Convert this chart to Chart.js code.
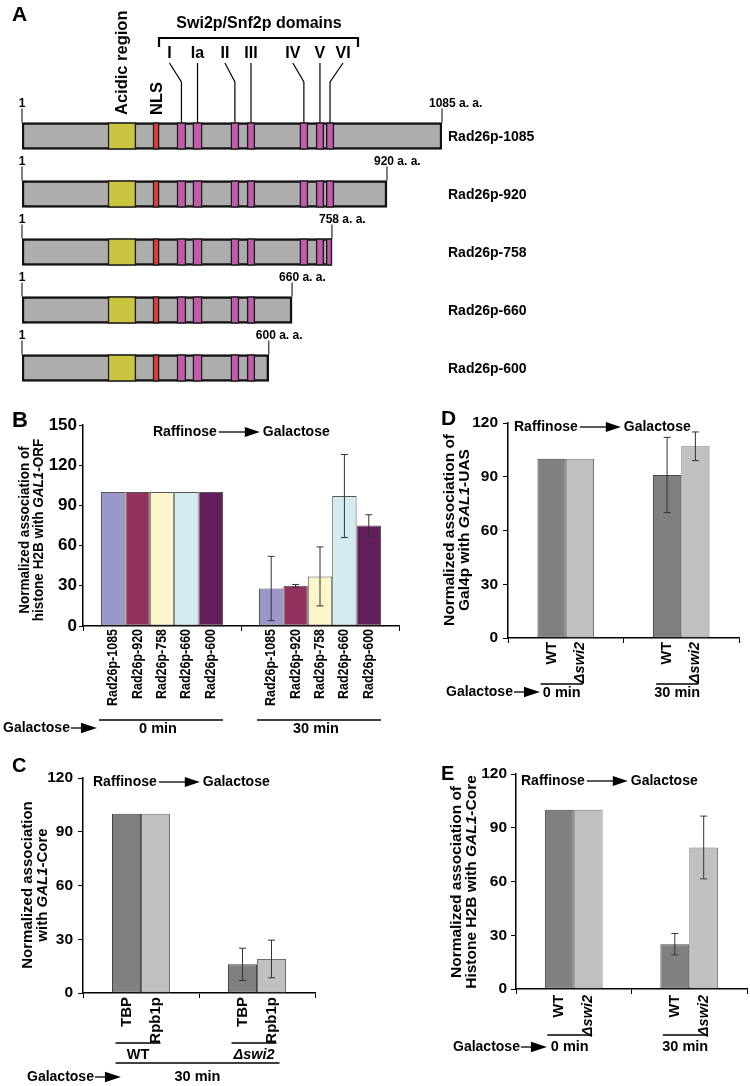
<!DOCTYPE html>
<html>
<head>
<meta charset="utf-8">
<script src="https://cdn.jsdelivr.net/npm/chart.js@4.4.1/dist/chart.umd.min.js"></script>
<style>
  html, body { margin: 0; padding: 0; background: #fff; }
  #fig { position: relative; width: 750px; height: 1086px; overflow: hidden; }
  canvas { position: absolute; }
</style>
</head>
<body>
<div id="fig">
  <canvas id="chartA"></canvas>
  <canvas id="chartB"></canvas>
  <canvas id="chartC"></canvas>
  <canvas id="chartD"></canvas>
  <canvas id="chartE"></canvas>
</div>
<script>
const FONT = "'Liberation Sans', Arial, sans-serif";

// Panel A - Rad26p truncation constructs (positions on the diagram's residue scale)
const constructNames = ['Rad26p-1085', 'Rad26p-920', 'Rad26p-758', 'Rad26p-660', 'Rad26p-600'];
const constructEnds = [1085, 943, 801, 698, 638];
const endLabels = ['1085 a. a.', '920 a. a.', '758 a. a.', '660 a. a.', '600 a. a.'];
const acidicRegion = [223, 295];
const nlsRegion = [339, 355];
const domainNames = ['I', 'Ia', 'II', 'III', 'IV', 'V', 'VI'];
const domainSpans = [[401, 424], [442, 466], [540, 561], [582, 602], [718, 739], [760, 780], [786, 806]];

// Panel B - histone H2B at GAL1-ORF
const bTimes = ['0 min', '30 min'];
const bStrains = ['Rad26p-1085', 'Rad26p-920', 'Rad26p-758', 'Rad26p-660', 'Rad26p-600'];
const bMeans = [[100, 28], [100, 30], [100, 37], [100, 97], [100, 75]];
const bErrs = [[0, 24], [0, 1], [0, 22], [0, 31], [0, 8]];
const bColors = ['#9a98cb', '#94325f', '#f9f6cb', '#d4ebf0', '#621f5c'];
const bTicks = [0, 30, 60, 90, 120, 150];

// Panel C - TBP / Rpb1p at GAL1-Core
const cStrains = ['WT', 'Δswi2'];
const cFactors = ['TBP', 'Rpb1p'];
const cMeans = [[100, 16], [100, 19]];
const cErrs = [[0, 9], [0, 10.5]];

// Panel D - Gal4p at GAL1-UAS
const dTimes = ['0 min', '30 min'];
const dStrains = ['WT', 'Δswi2'];
const dMeans = [[100, 91], [100, 107]];
const dErrs = [[0, 21], [0, 8]];

// Panel E - histone H2B at GAL1-Core
const eTimes = ['0 min', '30 min'];
const eStrains = ['WT', 'Δswi2'];
const eMeans = [[100, 25], [100, 79]];
const eErrs = [[0, 6], [0, 17.5]];

const tick120 = [0, 30, 60, 90, 120];
const greys = ['#808080', '#c0c0c0'];
const greyEdges = ['#444', '#707070'];

// ---------- drawing helpers ----------
function setFont(ctx, size, italic) {
  ctx.font = (italic ? 'italic ' : '') + 'bold ' + size + 'px ' + FONT;
}
function segsOf(t) { return [[t, t.indexOf('swi2') >= 0]]; }
function segWidth(ctx, segs, size) {
  let w = 0;
  segs.forEach(s => { setFont(ctx, size, s[1]); w += ctx.measureText(s[0]).width; });
  return w;
}
function drawSegs(ctx, segs, x, y, size) {
  ctx.textAlign = 'left';
  segs.forEach(s => {
    setFont(ctx, size, s[1]);
    ctx.fillText(s[0], x, y);
    x += ctx.measureText(s[0]).width;
  });
}
function centerText(ctx, segs, x, y, size) {
  ctx.textBaseline = 'middle';
  drawSegs(ctx, segs, x - segWidth(ctx, segs, size) / 2, y, size);
}
// text reading bottom to top; 'top' = ends at y, 'center', 'bottom' = starts at y
function vLabel(ctx, segs, x, y, size, align, squeeze) {
  ctx.save();
  ctx.translate(x, y);
  ctx.rotate(-Math.PI / 2);
  ctx.scale(squeeze || 1, 1);
  ctx.textBaseline = 'middle';
  const w = segWidth(ctx, segs, size);
  const x0 = align === 'top' ? -w : (align === 'center' ? -w / 2 : 0);
  drawSegs(ctx, segs, x0, 0, size);
  ctx.restore();
}
function arrow(ctx, x0, x1, y, head) {
  ctx.lineWidth = 1.3;
  ctx.beginPath(); ctx.moveTo(x0, y); ctx.lineTo(x1 - head + 1, y); ctx.stroke();
  ctx.beginPath();
  ctx.moveTo(x1 - head, y - head * 0.33);
  ctx.lineTo(x1, y);
  ctx.lineTo(x1 - head, y + head * 0.33);
  ctx.closePath(); ctx.fill();
}
function letter(ctx, ch, x, y, size) {
  setFont(ctx, size); ctx.textAlign = 'left'; ctx.textBaseline = 'middle';
  ctx.fillText(ch, x, y);
}
function raffinose(ctx, x, y) {
  setFont(ctx, 14); ctx.textAlign = 'left'; ctx.textBaseline = 'middle';
  ctx.fillText('Raffinose', x, y);
  const a = x + ctx.measureText('Raffinose').width + 2;
  arrow(ctx, a, a + 41, y, 15);
  ctx.fillText('Galactose', a + 44, y);
}
function galactoseArrow(ctx, x, y) {
  setFont(ctx, 14); ctx.textAlign = 'left'; ctx.textBaseline = 'middle';
  ctx.fillText('Galactose', x, y);
  const a = x + ctx.measureText('Galactose').width + 1;
  arrow(ctx, a, a + 26, y, 16);
}
function underline(ctx, x0, x1, y) {
  ctx.lineWidth = 1.3;
  ctx.beginPath(); ctx.moveTo(x0, y); ctx.lineTo(x1, y); ctx.stroke();
}
function yTitle(ctx, lines, xs, cy, size, squeeze) {
  lines.forEach((segs, k) => vLabel(ctx, segs, xs[k], cy, size, 'center', squeeze));
}

// ---------- Panel A ----------
const numeralShift = [-12, 0, -10, 0, -11, 0, 13];
const canvasA = document.getElementById('chartA');
canvasA.width = 750; canvasA.height = 400;
canvasA.style.left = '0px'; canvasA.style.top = '0px';

new Chart(canvasA, {
  type: 'bar',
  data: {
    labels: constructNames,
    datasets: [
      ...domainSpans.map(d => ({
        data: constructEnds.map(end => d[0] < end ? [d[0], Math.min(d[1], end)] : null),
        backgroundColor: '#c45aab', borderColor: '#1a1a1a', borderWidth: 1.5, order: 1
      })),
      { data: constructEnds.map(() => nlsRegion), backgroundColor: '#e03b3b', borderColor: '#1a1a1a', borderWidth: 1.5, order: 1 },
      { data: constructEnds.map(() => acidicRegion), backgroundColor: '#c9c53e', borderColor: '#1a1a1a', borderWidth: 1.5, order: 1 },
      { data: constructEnds.map(end => [1, end]), backgroundColor: '#adadad', borderColor: '#111', borderWidth: 2.5, order: 5 }
    ]
  },
  options: {
    indexAxis: 'y',
    responsive: false,
    animation: false,
    datasets: { bar: { grouped: false, barThickness: 27, borderSkipped: false } },
    layout: { padding: { left: 22, right: 308, top: 107, bottom: 3 } },
    plugins: { legend: { display: false }, tooltip: { enabled: false } },
    scales: {
      x: { type: 'linear', min: 1, max: 1085, display: false },
      y: { display: false }
    }
  },
  plugins: [{
    id: 'diagram',
    afterDatasetsDraw(chart) {
      const ctx = chart.ctx, xs = chart.scales.x, ys = chart.scales.y;
      const half = 13.5;
      ctx.save();
      ctx.fillStyle = '#000'; ctx.strokeStyle = '#000';
      letter(ctx, 'A', 12, 15, 21);

      // bracket over the Swi2p/Snf2p domains
      centerText(ctx, [['Swi2p/Snf2p domains', false]], 259, 24, 16);
      ctx.lineWidth = 2.2;
      ctx.beginPath();
      ctx.moveTo(159, 47); ctx.lineTo(159, 38); ctx.lineTo(358, 38); ctx.lineTo(358, 47);
      ctx.stroke();

      const top0 = ys.getPixelForValue(0) - half;
      domainNames.forEach((n, k) => {
        const cx = xs.getPixelForValue((domainSpans[k][0] + domainSpans[k][1]) / 2);
        const lx = cx + numeralShift[k];
        centerText(ctx, [[n, false]], lx, 54, 16);
        ctx.lineWidth = 1.2;
        ctx.beginPath();
        ctx.moveTo(lx, 63); ctx.lineTo(cx, 82); ctx.lineTo(cx, top0);
        ctx.stroke();
      });

      vLabel(ctx, [['Acidic region', false]], xs.getPixelForValue((acidicRegion[0] + acidicRegion[1]) / 2), 115, 16.5, 'bottom');
      vLabel(ctx, [['NLS', false]], xs.getPixelForValue((nlsRegion[0] + nlsRegion[1]) / 2) + 1, 115, 16.5, 'bottom');

      constructNames.forEach((name, i) => {
        const cy = ys.getPixelForValue(i), top = cy - half;
        const x0 = xs.getPixelForValue(1), x1 = xs.getPixelForValue(constructEnds[i]);
        ctx.lineWidth = 1;
        ctx.beginPath();
        ctx.moveTo(x0, top - 14); ctx.lineTo(x0, top);
        ctx.moveTo(x1, top - 14); ctx.lineTo(x1, top);
        ctx.stroke();
        centerText(ctx, [['1', false]], x0, top - 19, 12);
        setFont(ctx, 12); ctx.textAlign = 'left'; ctx.textBaseline = 'middle';
        ctx.fillText(endLabels[i], x1 - 13, top - 19);
        setFont(ctx, 14);
        ctx.fillText(name, 448, cy + 1);
      });
      ctx.restore();
    }
  }]
});

// ---------- Panels B-E ----------
function barPanel(id, box, area, cats, series, yTicks, opt) {
  const canvas = document.getElementById(id);
  canvas.width = box.w; canvas.height = box.h;
  canvas.style.left = box.x + 'px'; canvas.style.top = box.y + 'px';
  new Chart(canvas, {
    type: 'bar',
    data: {
      labels: cats,
      datasets: series.map(s => ({
        label: s.name, data: s.values, errors: s.errors,
        backgroundColor: s.color, borderColor: s.border, borderWidth: 1,
        borderSkipped: false, barPercentage: 1, categoryPercentage: opt.catPct
      }))
    },
    options: {
      responsive: false,
      animation: false,
      layout: { padding: { left: 0, top: area.t - box.y, right: box.x + box.w - area.r, bottom: 0 } },
      plugins: { legend: { display: false }, tooltip: { enabled: false } },
      scales: {
        x: {
          grid: { drawOnChartArea: false, tickLength: 5, color: '#000', offset: true },
          border: { color: '#000', width: 1.5 },
          ticks: { display: false },
          afterFit: s => { s.height = box.y + box.h - area.b; }
        },
        y: {
          min: 0, max: opt.yMax,
          grid: { drawOnChartArea: false, tickLength: opt.tickLen, color: '#000' },
          border: { color: '#000', width: 1.5 },
          ticks: { color: '#000', padding: opt.tickPad, font: { size: opt.tickSize, weight: 'bold', family: FONT } },
          afterBuildTicks: s => { s.ticks = yTicks.map(v => ({ value: v })); },
          afterFit: s => { s.width = area.l - box.x; }
        }
      }
    },
    plugins: [{
      id: 'decor',
      afterDatasetsDraw(chart) {
        const ctx = chart.ctx, ys = chart.scales.y;
        const bars = chart.data.datasets.map((ds, i) =>
          chart.getDatasetMeta(i).data.map(el => ({ x: el.x + box.x, w: el.width })));
        const yPix = v => ys.getPixelForValue(v) + box.y;
        ctx.save();
        ctx.translate(-box.x, -box.y);
        // error bars
        ctx.strokeStyle = '#333'; ctx.lineWidth = 1;
        chart.data.datasets.forEach((ds, i) => ds.data.forEach((v, j) => {
          const e = ds.errors[j];
          if (!e) return;
          const x = bars[i][j].x, y0 = yPix(v + e), y1 = yPix(v - e);
          ctx.beginPath();
          ctx.moveTo(x, y0); ctx.lineTo(x, y1);
          ctx.moveTo(x - 3.5, y0); ctx.lineTo(x + 3.5, y0);
          ctx.moveTo(x - 3.5, y1); ctx.lineTo(x + 3.5, y1);
          ctx.stroke();
        }));
        ctx.fillStyle = '#000'; ctx.strokeStyle = '#000';
        // rotated name under every bar
        series.forEach((s, i) => bars[i].forEach(b =>
          vLabel(ctx, segsOf(s.name), b.x, area.b + opt.labelGap, opt.labelSize, 'top', opt.squeeze)));
        opt.draw(ctx, bars);
        ctx.restore();
      }
    }]
  });
}

barPanel('chartB', { x: 0, y: 395, w: 420, h: 350 }, { l: 83, t: 425, r: 399, b: 626 }, bTimes,
  bStrains.map((n, i) => ({ name: n, values: bMeans[i], errors: bErrs[i], color: bColors[i], border: '#555' })),
  bTicks,
  {
    yMax: 150, catPct: 0.772, tickSize: 17, tickLen: 4, tickPad: 2, labelGap: 3, labelSize: 14.5, squeeze: 0.86,
    draw(ctx, bars) {
      letter(ctx, 'B', 12, 421, 22);
      raffinose(ctx, 153, 432);
      bTimes.forEach((t, g) => {
        const b0 = bars[0][g], b1 = bars[bars.length - 1][g];
        const x0 = b0.x - b0.w / 2 - 2, x1 = b1.x + b1.w / 2;
        underline(ctx, x0, x1, 720);
        centerText(ctx, [[t, false]], (x0 + x1) / 2 - 3, 729, 14.5);
      });
      galactoseArrow(ctx, 3, 728);
      yTitle(ctx, [[['Normalized association of', false]],
                   [['histone H2B with ', false], ['GAL1', true], ['-ORF', false]]], [25, 39], 530, 15, 0.9);
    }
  });

barPanel('chartC', { x: 0, y: 750, w: 400, h: 336 }, { l: 83, t: 778, r: 315, b: 993 }, cStrains,
  cFactors.map((n, i) => ({ name: n, values: cMeans[i], errors: cErrs[i], color: greys[i], border: greyEdges[i] })),
  tick120,
  {
    yMax: 120, catPct: 0.5, tickSize: 15.5, tickLen: 5, tickPad: 5, labelGap: 4, labelSize: 15, squeeze: 1,
    draw(ctx, bars) {
      letter(ctx, 'C', 12, 766, 20);
      raffinose(ctx, 93, 782);
      cStrains.forEach((t, g) => {
        const x0 = bars[0][g].x - 11, x1 = bars[1][g].x + 5;
        underline(ctx, x0, x1, 1043);
        centerText(ctx, segsOf(t), (x0 + x1) / 2, 1055, 14.5);
      });
      const l0 = bars[0][0].x - 11, l1 = bars[1][1].x + 8;
      underline(ctx, l0, l1, 1063);
      centerText(ctx, [['30 min', false]], (l0 + l1) / 2, 1077, 14.5);
      galactoseArrow(ctx, 27, 1077);
      yTitle(ctx, [[['Normalized association', false]],
                   [['with ', false], ['GAL1', true], ['-Core', false]]], [28, 43], 885, 15);
    }
  });

barPanel('chartD', { x: 375, y: 395, w: 375, h: 320 }, { l: 508, t: 423, r: 739, b: 638 }, dTimes,
  dStrains.map((n, i) => ({ name: n, values: dMeans[i], errors: dErrs[i], color: greys[i], border: greyEdges[i] })),
  tick120,
  {
    yMax: 120, catPct: 0.49, tickSize: 15.5, tickLen: 5, tickPad: 5, labelGap: 4, labelSize: 14.5, squeeze: 1,
    draw(ctx, bars) {
      letter(ctx, 'D', 441, 419, 21);
      raffinose(ctx, 514, 427);
      dTimes.forEach((t, g) => {
        const x0 = bars[0][g].x - 11, x1 = bars[1][g].x + 3;
        underline(ctx, x0, x1, 684);
        centerText(ctx, [[t, false]], (x0 + x1) / 2, 693, 14.5);
      });
      galactoseArrow(ctx, 446, 692);
      yTitle(ctx, [[['Normalized association of', false]],
                   [['Gal4p with ', false], ['GAL1', true], ['-UAS', false]]], [450, 465], 530, 15.5);
    }
  });

barPanel('chartE', { x: 375, y: 750, w: 375, h: 336 }, { l: 516, t: 774, r: 747, b: 989 }, eTimes,
  eStrains.map((n, i) => ({ name: n, values: eMeans[i], errors: eErrs[i], color: greys[i], border: greyEdges[i] })),
  tick120,
  {
    yMax: 120, catPct: 0.5, tickSize: 15.5, tickLen: 5, tickPad: 4, labelGap: 6, labelSize: 14.5, squeeze: 1,
    draw(ctx, bars) {
      letter(ctx, 'E', 441, 774, 20);
      raffinose(ctx, 521, 781);
      eTimes.forEach((t, g) => {
        const x0 = bars[0][g].x - 12, x1 = bars[1][g].x + 4;
        underline(ctx, x0, x1, 1035);
        centerText(ctx, [[t, false]], (x0 + x1) / 2, 1047, 14.5);
      });
      galactoseArrow(ctx, 453, 1047);
      yTitle(ctx, [[['Normalized association of', false]],
                   [['Histone H2B with ', false], ['GAL1', true], ['-Core', false]]], [457, 472], 882, 15.5);
    }
  });
</script>
</body>
</html>
